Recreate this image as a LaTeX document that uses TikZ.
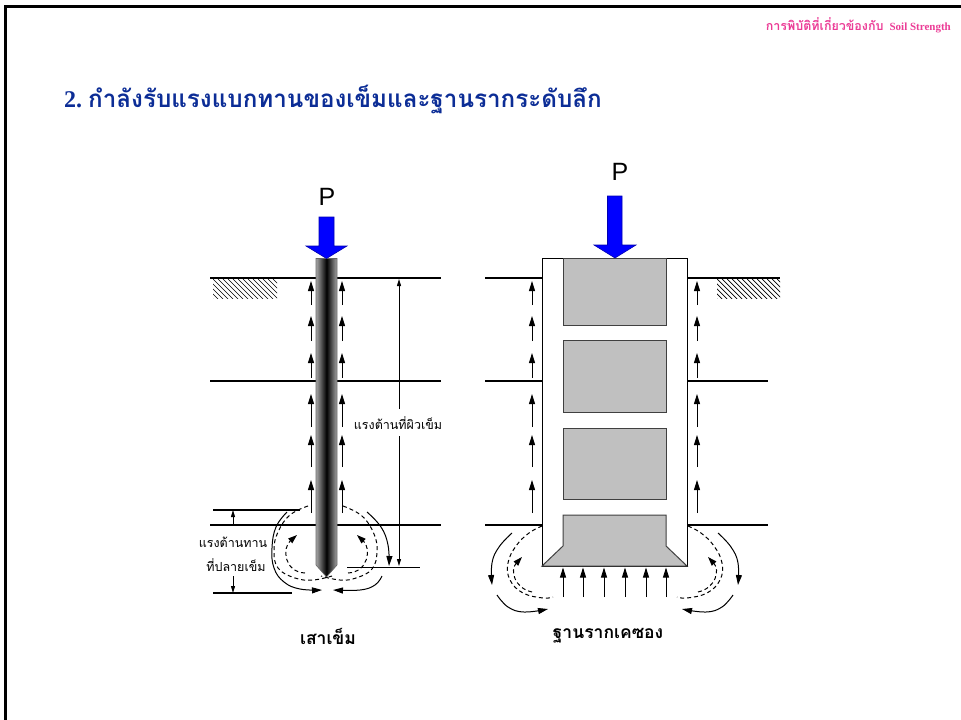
\documentclass[tikz,border=0pt]{standalone}
\usepackage{fontspec}
\setmainfont{Liberation Serif}
\newfontfamily\thaifont[Script=Thai]{Loma}
\newfontfamily\loadfont{Liberation Sans}
\usetikzlibrary{arrows.meta}

\definecolor{titleblue}{RGB}{12,45,150}
\definecolor{headpink}{RGB}{235,60,150}
\definecolor{loadblue}{RGB}{0,0,255}
\definecolor{blockgray}{RGB}{192,192,192}

\tikzset{
  ground/.style={line width=1.2pt},
  hatchline/.style={line width=0.7pt},
  friction/.style={line width=0.9pt, -{Triangle[length=10pt,width=6pt]}},
  dimline/.style={line width=0.9pt},
  dimarrow/.style={line width=0.9pt, -{Triangle[length=7pt,width=4pt]}},
  flow/.style={line width=1pt, dash pattern=on 4pt off 3pt},
  flowtip/.style={flow, -{Triangle[length=9pt,width=6pt]}},
  swirl/.style={line width=1pt, -{Triangle[length=10pt,width=6pt]}},
  loadarrow/.style={fill=loadblue, draw=loadblue!70!black, line width=0.6pt},
  block/.style={fill=blockgray, draw=black!75, line width=1pt},
  thailabel/.style={font=\thaifont\fontsize{12.5}{14}\selectfont, inner sep=1pt},
  thaicaption/.style={font=\thaifont\bfseries\fontsize{17.5}{20}\selectfont, inner sep=1pt},
  loadlabel/.style={font=\loadfont\fontsize{25}{28}\selectfont, inner sep=0pt},
}

\begin{document}
\begin{tikzpicture}[x=1pt,y=-1pt]
\useasboundingbox (0,0) rectangle (961,720);

% page frame (top and left edges)
\draw[line width=3pt] (5.5,720) -- (5.5,6.5) -- (961,6.5);

% header and title
\node[anchor=east, text=headpink, inner sep=0pt] (header) at (951,25)
  {{\thaifont\bfseries\fontsize{12.5}{14}\selectfont การพิบัติที่เกี่ยวข้องกับ}\hspace{6pt}{\bfseries\fontsize{11}{13}\selectfont Soil Strength}};
\node[anchor=west, text=titleblue, inner sep=0pt] (title) at (64,100)
  {{\bfseries\fontsize{24}{28}\selectfont 2.}\hspace{6pt}{\thaifont\bfseries\fontsize{24.2}{28}\selectfont กำลังรับแรงแบกทานของเข็มและฐานรากระดับลึก}};

% ---------------- pile ----------------
% soil layer boundaries
\foreach \yy in {278,381,525} \draw[ground] (210,\yy) -- (441,\yy);
\begin{scope}
  \clip (213,279) rectangle (277,298);
  \foreach \i in {-25,-20,...,70} \draw[hatchline] (213+\i,279) -- ++(20,20);
\end{scope}

% skin friction arrows beside the pile
\foreach \xx in {311,342}
  \foreach \t/\h in {305/281,341/316,378/353,427/394,467/435,513/480}
    \draw[friction] (\xx,\t) -- (\xx,\h);

% pile shaft with pointed toe
\shade[left color=black!35, right color=black!35, middle color=black]
  (316,258.5) -- (337,258.5) -- (337,565) -- (326.5,577) -- (316,565) -- cycle;
\draw[black!60, line width=0.6pt]
  (316,258.5) -- (337,258.5) -- (337,565) -- (326.5,577) -- (316,565) -- cycle;

% load on the pile
\node[loadlabel] (pleft) at (327,197) {P};
\filldraw[loadarrow] (319,217) -- (334,217) -- (334,246) -- (347,246) -- (326.5,258.5)
  -- (306,246) -- (319,246) -- cycle;

% skin friction dimension
\coordinate (sftop) at (399,279);
\coordinate (sfbot) at (399,566);
\node[thailabel] (sflabel) at (398,423) {แรงต้านที่ผิวเข็ม};
\draw[dimarrow] (399,409) -- (sftop);
\draw[dimarrow] (399,436) -- (sfbot);
\draw[dimline] (347,567) -- (420,567);

% end bearing dimension
\draw[line width=1.4pt] (213,510) -- (300,510);
\draw[line width=1.4pt] (213,593) -- (292,593);
\coordinate (ebtop) at (233,510);
\coordinate (ebbot) at (233,593);
\draw[dimarrow] (233,525) -- (ebtop);
\draw[dimarrow] (233,576) -- (ebbot);
\node[thailabel] (eblabel1) at (233,542) {แรงต้านทาน};
\node[thailabel] (eblabel2) at (236,565) {ที่ปลายเข็ม};

% soil flow around the pile toe
\draw[flow] plot[smooth, tension=0.7] coordinates
  {(308,506) (290,515) (278,532) (274,550) (278,568) (295,578) (313,580) (332,576)};
\draw[flow] plot[smooth, tension=0.7] coordinates
  {(343,506) (362,516) (374,534) (377,552) (372,569) (356,578) (340,580) (321,576)};
\draw[flowtip] (305,573) .. controls (284,572) and (282,548) .. (297,535);
\draw[flowtip] (348,573) .. controls (369,572) and (371,548) .. (357,535);
\draw[swirl] plot[smooth, tension=0.7] coordinates
  {(287,512) (276,527) (272,548) (274,568) (284,582) (300,589) (322,590)};
\draw[swirl] plot[smooth, tension=0.7] coordinates
  {(367,512) (381,527) (388,545) (389,566)};
\draw[swirl] plot[smooth, tension=0.7] coordinates
  {(382,576) (375,585) (360,590) (333,590)};

\node[thaicaption] (pilecap) at (328,636) {เสาเข็ม};

% ---------------- caisson ----------------
\foreach \yy in {278,381,525} \draw[ground] (485,\yy) -- (542,\yy);
\draw[ground] (687,278) -- (780,278);
\draw[ground] (687,381) -- (768,381);
\draw[ground] (687,525) -- (768,525);
\begin{scope}
  \clip (717,279) rectangle (780,298);
  \foreach \i in {-25,-20,...,70} \draw[hatchline] (717+\i,279) -- ++(20,20);
\end{scope}

\foreach \xx in {532,697}
  \foreach \t/\h in {305/281,341/316,378/353,427/394,467/435,513/480}
    \draw[friction] (\xx,\t) -- (\xx,\h);

% caisson shell and concrete fill
\draw[fill=white, line width=1pt] (542,258) rectangle (687,566);
\draw[block] (563,258) rectangle (666,325);
\draw[block] (563,340) rectangle (666,412);
\draw[block] (563,428) rectangle (666,499);
\draw[block] (563,515) -- (666,515) -- (666,546) -- (687,566) -- (542,566) -- (563,546) -- cycle;

% load on the caisson
\node[loadlabel] (pright) at (620,172) {P};
\filldraw[loadarrow] (607.5,196) -- (622,196) -- (622,245) -- (636,245) -- (615,258)
  -- (594,245) -- (607.5,245) -- cycle;

% base bearing arrows
\foreach \xx in {563,583,604,625,646,666}
  \draw[friction] (\xx,597) -- (\xx,567.5);

% soil flow around the caisson base (left, then mirrored right)
\foreach \s/\c in {1/0, -1/1230}{
  \draw[flow] plot[smooth, tension=0.7] coordinates
    {({\c+\s*542},526) ({\c+\s*529},533) ({\c+\s*516},546) ({\c+\s*508},563)
     ({\c+\s*510},580) ({\c+\s*523},593) ({\c+\s*543},598) ({\c+\s*553},597)};
  \draw[flowtip] ({\c+\s*532},592) .. controls ({\c+\s*514},588) and ({\c+\s*510},570) .. ({\c+\s*522},557);
  \draw[swirl] plot[smooth, tension=0.7] coordinates
    {({\c+\s*512},533) ({\c+\s*499},547) ({\c+\s*492},563) ({\c+\s*492},585)};
  \draw[swirl] plot[smooth, tension=0.7] coordinates
    {({\c+\s*497},595) ({\c+\s*508},607) ({\c+\s*524},612) ({\c+\s*548},609)};
}

\node[thaicaption] (caissoncap) at (608,636) {ฐานรากเคซอง};
\end{tikzpicture}
\end{document}
